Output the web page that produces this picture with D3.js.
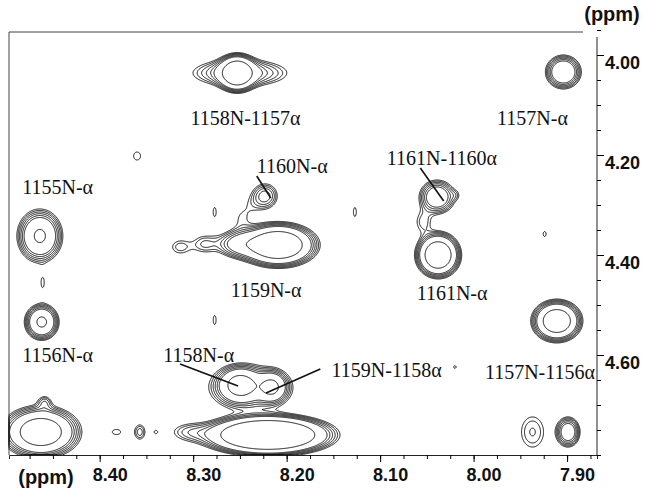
<!DOCTYPE html>
<html>
<head>
<meta charset="utf-8">
<script src="https://cdn.jsdelivr.net/npm/d3@7"></script>
<style>
body { margin: 0; background: #fff; }
.tick text { font-family: "Liberation Sans", Arial, sans-serif; font-weight: bold; font-size: 18px; fill: #111; }
.lbl { font-family: "Liberation Serif", "Times New Roman", serif; font-size: 20px; fill: #111; }
.unit { font-family: "Liberation Sans", Arial, sans-serif; font-weight: bold; font-size: 20px; fill: #111; }
</style>
</head>
<body>
<svg id="chart" width="645" height="489"></svg>
<script>
// peak components: 1H shift (ppm), 1H-alpha shift (ppm), line widths (ppm), height (in units of lowest contour)
var peakH   = [8.253, 8.250, 7.904, 8.360, 8.223, 8.238, 8.249, 8.277, 8.127, 8.461, 8.277, 7.924,
               8.020, 8.209, 8.250, 8.288, 8.039, 8.019, 8.054, 8.038, 8.464, 8.462, 7.911, 8.250,
               8.216, 8.239, 8.220, 8.304, 8.463, 8.459, 8.382, 8.357, 8.340, 7.937, 7.899, 8.314];
var peakA   = [4.036, 4.036, 4.034, 4.202, 4.282, 4.300, 4.328, 4.314, 4.314, 4.456, 4.530, 4.358,
               4.624, 4.380, 4.378, 4.378, 4.284, 4.280, 4.334, 4.400, 4.362, 4.534, 4.532, 4.660,
               4.664, 4.666, 4.760, 4.754, 4.754, 4.694, 4.754, 4.754, 4.754, 4.754, 4.754, 4.384];
var widthH  = [0.0095, 0.0310, 0.0099, 0.0078, 0.0090, 0.0096, 0.0086, 0.0036, 0.0036, 0.0036, 0.0036, 0.0036,
               0.0032, 0.0187, 0.0150, 0.0096, 0.0105, 0.0043, 0.0075, 0.0107, 0.0121, 0.0091, 0.0121, 0.0118,
               0.0086, 0.0278, 0.0297, 0.0160, 0.0193, 0.0054, 0.0086, 0.0050, 0.0027, 0.0121, 0.0072, 0.0096];
var widthA  = [0.0168, 0.0168, 0.0175, 0.0168, 0.0168, 0.018, 0.018, 0.0206, 0.0206, 0.0206, 0.0206, 0.0114,
               0.006, 0.0196, 0.016, 0.015, 0.0185, 0.008, 0.018, 0.0203, 0.0266, 0.018, 0.019, 0.018,
               0.016, 0.028, 0.017, 0.014, 0.0237, 0.010, 0.010, 0.0132, 0.005, 0.031, 0.0168, 0.014];
var peakAmp = [15.5, 3.7, 6.6, 1.12, 2.8, 0.7, 0.9, 1.1, 1.1, 1.1, 1.1, 1.1,
               1.1, 17.9, 4, 1.5, 5.4, 0.7, 1.4, 16.3, 7.9, 8.2, 14.4, 9,
               7.5, 3, 29, 1.5, 13.4, 1.5, 1.14, 1.75, 1.1, 1.6, 5, 1.4];

var levels = [1, 1.246, 1.55, 1.93, 2.41, 3.0, 7.0];

var xTicks = [8.40, 8.30, 8.20, 8.10, 8.00, 7.90];
var yTicks = [4.00, 4.20, 4.40, 4.60];

// assignments: text, 1H, alpha
var labelText = ["1158N-1157\u03b1", "1157N-\u03b1", "1160N-\u03b1", "1161N-1160\u03b1", "1155N-\u03b1", "1159N-\u03b1",
                 "1161N-\u03b1", "1156N-\u03b1", "1158N-\u03b1", "1159N-1158\u03b1", "1157N-1156\u03b1"];
var labelH = [8.244, 7.937, 8.194, 8.034, 8.445, 8.222, 8.023, 8.445, 8.294, 8.093, 7.929];
var labelA = [4.126, 4.126, 4.222, 4.206, 4.264, 4.470, 4.476, 4.600, 4.600, 4.630, 4.634];

// pointer lines: from (h1,a1) to (h2,a2)
var pointerH1 = [8.232, 8.057, 8.314, 8.164];
var pointerA1 = [4.242, 4.226, 4.618, 4.628];
var pointerH2 = [8.217, 8.032, 8.252, 8.222];
var pointerA2 = [4.286, 4.292, 4.662, 4.676];

var plotL = 9, plotT = 32, plotR = 597, plotB = 455;

var x = d3.scaleLinear().domain([8.497, 7.868]).range([plotL, plotR]);
var y = d3.scaleLinear().domain([3.954, 4.80]).range([plotT, plotB]);

var svg = d3.select("#chart");

// intensity grid over the plotted window
var nx = plotR - plotL, ny = plotB - plotT;
var values = new Float64Array(nx * ny);
for (var j = 0; j < ny; j++) {
    var a = y.invert(plotT + j + 0.5);
    for (var i = 0; i < nx; i++) {
        var h = x.invert(plotL + i + 0.5);
        var s = 0;
        for (var k = 0; k < peakAmp.length; k++) {
            var dh = (h - peakH[k]) / widthH[k], da = (a - peakA[k]) / widthA[k];
            var e = 0.5 * (dh * dh + da * da);
            if (e < 30) s += peakAmp[k] * Math.exp(-e);
        }
        values[j * nx + i] = s;
    }
}

var gx = d3.scaleLinear().domain([0, nx]).range(x.domain());
var gy = d3.scaleLinear().domain([0, ny]).range(y.domain());
var path = d3.geoPath(d3.geoTransform({
    point: function (px, py) { this.stream.point(x(gx(px)), y(gy(py))); }
}));

var contours = d3.contours().size([nx, ny]).thresholds(levels)(values);

svg.append("g")
    .attr("class", "contours")
    .selectAll("path")
    .data(contours)
    .enter().append("path")
    .attr("d", path)
    .attr("fill", "none")
    .attr("stroke", "#000")
    .attr("stroke-width", 0.9);

// frame
var frame = svg.append("g").attr("stroke", "#444").attr("stroke-width", 1);
frame.append("line").attr("x1", plotL).attr("x2", 583).attr("y1", plotT).attr("y2", plotT);
frame.append("line").attr("x1", plotL).attr("x2", plotL).attr("y1", plotT).attr("y2", plotB);

// axes
var minorX = d3.range(8.475, 7.87, -0.025);
svg.append("g")
    .attr("transform", "translate(0," + plotB + ")")
    .call(d3.axisBottom(x).tickValues(minorX).tickSize(4).tickFormat(""))
    .call(function (g) { g.select(".domain").attr("stroke", "#222"); });
svg.append("g")
    .attr("transform", "translate(0," + plotB + ")")
    .call(d3.axisBottom(x).tickValues(xTicks).tickSize(7).tickPadding(6).tickFormat(d3.format(".2f")))
    .call(function (g) {
        g.select(".domain").remove();
        g.selectAll("text").attr("dx", 10);
    });

var minorY = d3.range(3.95, 4.801, 0.05);
svg.append("g")
    .attr("transform", "translate(" + plotR + ",0)")
    .call(d3.axisRight(y).tickValues(minorY).tickSize(4).tickFormat(""))
    .call(function (g) { g.select(".domain").attr("stroke", "#222").attr("d", "M0," + (plotT + 5) + "V" + plotB); });
svg.append("g")
    .attr("transform", "translate(" + plotR + ",0)")
    .call(d3.axisRight(y).tickValues(yTicks).tickSize(7).tickPadding(1).tickFormat(d3.format(".2f")))
    .call(function (g) {
        g.select(".domain").remove();
        g.selectAll("text").attr("dy", "0.76em");
    });

svg.append("text").attr("class", "unit")
    .attr("x", 612).attr("y", 21)
    .attr("text-anchor", "middle")
    .text("(ppm)");
svg.append("text").attr("class", "unit")
    .attr("x", 46).attr("y", 484)
    .attr("text-anchor", "middle")
    .text("(ppm)");

// pointers
svg.append("g")
    .selectAll("line")
    .data(pointerH1)
    .enter().append("line")
    .attr("x1", function (d) { return x(d); })
    .attr("y1", function (d, i) { return y(pointerA1[i]); })
    .attr("x2", function (d, i) { return x(pointerH2[i]); })
    .attr("y2", function (d, i) { return y(pointerA2[i]); })
    .attr("stroke", "#111")
    .attr("stroke-width", 1.6);

// assignment labels
svg.append("g")
    .selectAll("text")
    .data(labelText)
    .enter().append("text")
    .attr("class", "lbl")
    .attr("x", function (d, i) { return x(labelH[i]); })
    .attr("y", function (d, i) { return y(labelA[i]); })
    .attr("text-anchor", "middle")
    .attr("dominant-baseline", "central")
    .text(function (d) { return d; });
</script>
</body>
</html>
